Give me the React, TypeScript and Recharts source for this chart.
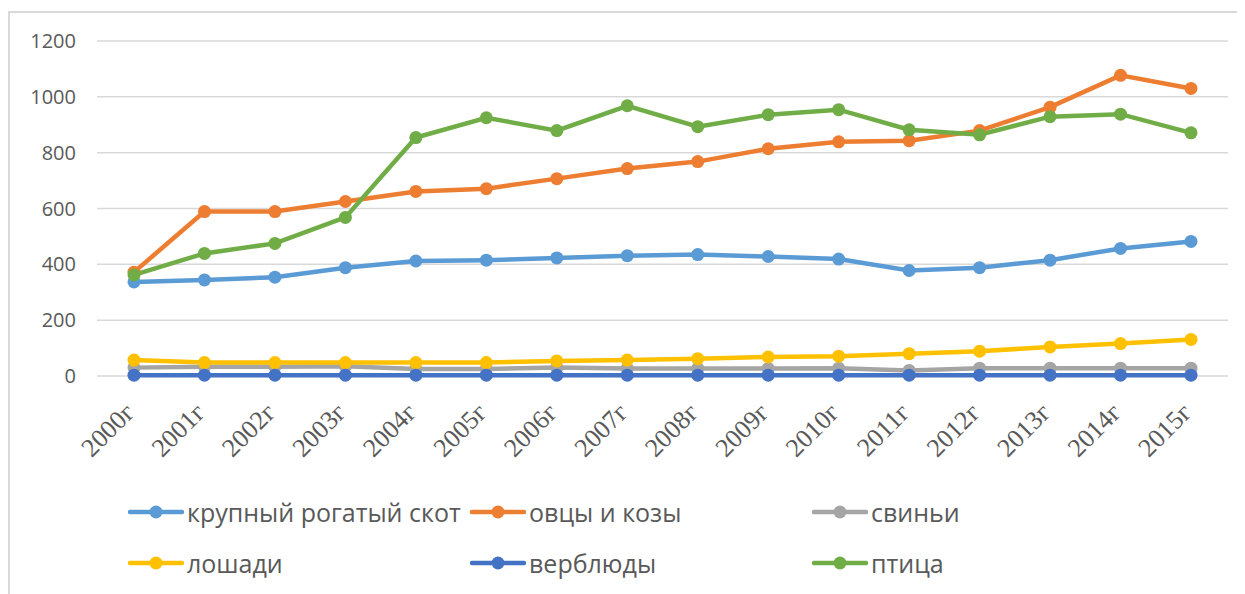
import React from "react";
import { LineChart, Line, XAxis, YAxis, CartesianGrid, Legend } from "recharts";

const years = ["2000г","2001г","2002г","2003г","2004г","2005г","2006г","2007г","2008г","2009г","2010г","2011г","2012г","2013г","2014г","2015г"];
const cattle = [337,344,354,388,412,415,423,431,435,428,419,378,388,415,457,482];
const sheepGoats = [372,589,589,625,661,671,707,743,768,814,839,843,879,963,1077,1030];
const pigs = [30,33,33,35,25,25,30,27,27,27,28,20,28,28,28,28];
const horses = [57,48,48,48,48,48,54,57,62,68,71,80,89,104,116,131];
const camels = [3,3,3,3,3,3,3,3,3,3,3,3,3,3,3,3];
const poultry = [362,439,475,568,854,925,879,968,893,936,954,882,864,929,938,871];
const yTicks = [0,200,400,600,800,1000,1200];

const seriesNames = ["крупный рогатый скот","овцы и козы","свиньи","лошади","верблюды","птица"];
const seriesKeys = ["cattle","sheep","pigs","horses","camels","poultry"];
const seriesColors = ["#5B9BD5","#ED7D31","#A5A5A5","#FFC000","#4472C4","#70AD47"];
const seriesValues = [cattle, sheepGoats, pigs, horses, camels, poultry];

const data = years.map((y, i) => {
  const row: Record<string, string | number> = { year: y };
  seriesKeys.forEach((k, j) => { row[k] = seriesValues[j][i]; });
  return row;
});

const legendPos = [
  { left: 120, top: 34 },
  { left: 462, top: 34 },
  { left: 804, top: 34 },
  { left: 120, top: 85 },
  { left: 462, top: 85 },
  { left: 804, top: 85 },
];

const renderXTick = (props: any) => {
  const { x, y, payload } = props;
  const ax = x + 2;
  const ay = y + 38;
  return (
    <g key={payload.value}>
      <text x={ax} y={ay} transform={`rotate(-45, ${ax}, ${ay})`} textAnchor="end"
        fill="#595959" style={{ fontSize: "26px", fontFamily: "'Liberation Serif', 'DejaVu Serif', serif" }}>
        {payload.value}
      </text>
    </g>
  );
};

const LegendContent = () => (
  <div style={{ position: "relative", width: 1237, height: 110 }}>
    {seriesNames.map((n, i) => (
      <div key={n} style={{ position: "absolute", left: legendPos[i].left, top: legendPos[i].top - 15, height: 30, display: "flex", alignItems: "center", whiteSpace: "nowrap" }}>
        <svg width={56} height={30} style={{ display: "block" }}>
          <line x1={2} y1={15} x2={54} y2={15} stroke={seriesColors[i]} strokeWidth={4.5} strokeLinecap="round" />
          <circle cx={28} cy={15} r={6.5} fill={seriesColors[i]} />
        </svg>
        <span style={{ marginLeft: 3, fontFamily: "'Open Sans', sans-serif", fontSize: 25, color: "#595959", lineHeight: "30px" }}>{n}</span>
      </div>
    ))}
  </div>
);

export default function App() {
  return (
    <div style={{ position: "relative", width: 1237, height: 586, overflow: "hidden", background: "#fff" }}>
      <div style={{ position: "absolute", left: 0, top: 3, width: 1300, height: 700, borderLeft: "2px solid #d9d9d9", borderTop: "2px solid #d9d9d9" }} />
      <div style={{ position: "absolute", left: 0, top: 0 }}>
        <LineChart width={1237} height={586} data={data} margin={{ top: 33, right: 17, left: 0, bottom: 217 }}>
          <CartesianGrid vertical={false} stroke="#d9d9d9" strokeWidth={1.5} />
          <XAxis dataKey="year" axisLine={false} tickLine={false} tickSize={0} tickMargin={0}
            padding={{ left: 37, right: 37 }} height={1} interval={0} tick={renderXTick} />
          <YAxis domain={[0, 1200]} ticks={yTicks} width={89} axisLine={false} tickLine={false}
            tickSize={0} tickMargin={21} interval={0}
            tick={{ fill: "#595959", fontSize: 20, fontFamily: "'Open Sans', sans-serif" }} />
          <Legend layout="horizontal" verticalAlign="middle" align="center"
            wrapperStyle={{ position: "absolute", top: 470, left: 0, width: 1237 }}
            content={<LegendContent />} />
          {seriesKeys.map((k, i) => (
            <Line key={k} dataKey={k} name={seriesNames[i]} stroke={seriesColors[i]} strokeWidth={4.5}
              dot={{ r: 6.5, fill: seriesColors[i], stroke: seriesColors[i], strokeWidth: 0 }}
              activeDot={false} isAnimationActive={false} type="linear" />
          ))}
        </LineChart>
      </div>
    </div>
  );
}
